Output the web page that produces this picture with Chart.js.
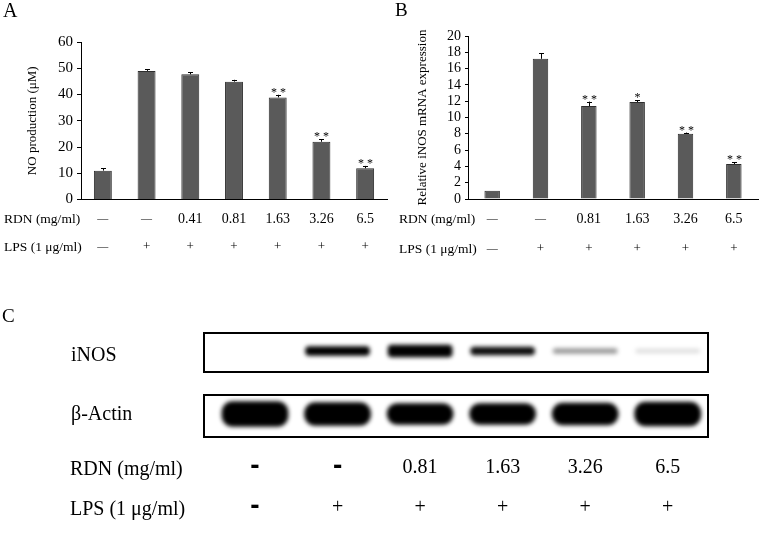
<!DOCTYPE html>
<html><head><meta charset="utf-8">
<script src="https://cdn.jsdelivr.net/npm/chart.js@4.4.1/dist/chart.umd.min.js"></script>
<style>
html,body{margin:0;padding:0;background:#fff;}
#wrap{position:relative;width:762px;height:549px;overflow:hidden;font-family:'Liberation Serif','Times New Roman',serif;color:#000;background:#fff;}
canvas{position:absolute;left:0;top:0;}
.lbl{position:absolute;white-space:nowrap;line-height:1;transform:translateY(-50%);}
</style></head><body>
<div id="wrap">
<canvas id="cA" width="762" height="549"></canvas>
<canvas id="cB" width="762" height="549"></canvas>
<canvas id="cC" width="762" height="549"></canvas>
<div class="lbl" style="left:3px;top:10px;font-size:20px">A</div>
<div class="lbl" style="left:395px;top:9px;font-size:19px">B</div>
<div class="lbl" style="left:2px;top:315px;font-size:19px">C</div>
<div class="lbl" style="left:4px;top:219px;font-size:13.5px">RDN (mg/ml)</div>
<div class="lbl" style="left:4px;top:247px;font-size:13.5px">LPS (1 μg/ml)</div>
<div class="lbl" style="left:399px;top:219px;font-size:13.5px">RDN (mg/ml)</div>
<div class="lbl" style="left:399px;top:249px;font-size:13.5px">LPS (1 μg/ml)</div>
<div class="lbl" style="left:71px;top:354px;font-size:20px">iNOS</div>
<div class="lbl" style="left:71px;top:413px;font-size:20px">β-Actin</div>
<div class="lbl" style="left:70px;top:468px;font-size:20px">RDN (mg/ml)</div>
<div class="lbl" style="left:70px;top:508px;font-size:20px">LPS (1 μg/ml)</div>
</div>
<script>
// ---------- Panel A data ----------
const groupsA = ['1','2','3','4','5','6','7'];
const rdnA = ['—','—','0.41','0.81','1.63','3.26','6.5'];
const lpsA = ['—','+','+','+','+','+','+'];
const noValues = [11.0, 49.0, 47.7, 44.9, 38.9, 22.0, 11.9];
const noErrors = [1.0, 0.7, 0.7, 0.7, 1.0, 0.9, 0.9];
const noSig = ['', '', '', '', '**', '**', '**'];

// ---------- Panel B data ----------
const groupsB = ['1','2','3','4','5','6'];
const rdnB = ['—','—','0.81','1.63','3.26','6.5'];
const lpsB = ['—','+','+','+','+','+'];
const inosValues = [1.0, 17.2, 11.4, 11.9, 8.0, 4.3];
const inosErrors = [0, 0.7, 0.55, 0.2, 0.15, 0.2];
const inosSig = ['', '', '**', '*', '**', '**'];

// ---------- Panel C data (western blot) ----------
const lanesC = [1, 2, 3, 4, 5, 6];
const rdnC = ['-', '-', '0.81', '1.63', '3.26', '6.5'];
const lpsC = ['-', '+', '+', '+', '+', '+'];
const inosBandIntensity = [0, 1.0, 1.0, 0.95, 0.4, 0.13];
const inosBandThickness = [0, 9, 12, 8, 5, 4];
const actinBandIntensity = [1, 1, 1, 1, 1, 1];
const actinBandThickness = [25, 23, 21, 21, 22, 24];

const SERIF = "'Liberation Serif','Times New Roman',serif";

function barAnnot(id, values, errors, sig, rdn, lps, rowY) {
  return {
    id,
    afterDatasetsDraw(chart) {
      const ctx = chart.ctx, ys = chart.scales.y, xs = chart.scales.x;
      const meta = chart.getDatasetMeta(0);
      ctx.save();
      ctx.strokeStyle = '#000'; ctx.lineWidth = 1; ctx.fillStyle = '#000';
      values.forEach((v, i) => {
        const x = Math.round(meta.data[i].x) + 0.5;
        const yv = ys.getPixelForValue(v), yt = ys.getPixelForValue(v + errors[i]);
        if (errors[i] > 0) {
          ctx.beginPath();
          ctx.moveTo(x, yv); ctx.lineTo(x, yt);
          ctx.moveTo(x - 2.5, Math.round(yt) + 0.5); ctx.lineTo(x + 2.5, Math.round(yt) + 0.5);
          ctx.stroke();
        }
        if (sig[i]) {
          ctx.font = '12px ' + SERIF;
          ctx.textAlign = 'center'; ctx.textBaseline = 'alphabetic';
          ctx.fillText(sig[i].split('').join(' '), x, yt + 1);
        }
      });
      ctx.textBaseline = 'middle';
      ctx.textAlign = 'center';
      [rdn, lps].forEach((row, r) => {
        row.forEach((t, i) => {
          const x = xs.getPixelForValue(i);
          ctx.font = (t === '—' ? '11px ' : (t === '+' ? '13px ' : '14px ')) + SERIF;
          ctx.fillText(t, x, rowY[r]);
        });
      });
      ctx.restore();
    }
  };
}

function yAxis(min, max, step, fontSize, tickLen, pad, title, width) {
  return {
    min, max,
    ticks: { stepSize: step, autoSkip: false, color: '#000', font: { family: SERIF, size: fontSize }, padding: pad },
    grid: { drawOnChartArea: false, drawTicks: true, tickLength: tickLen, color: '#000' },
    border: { display: true, color: '#000', width: 1 },
    title: { display: true, text: title, color: '#000', font: { family: SERIF, size: 13 } },
    afterFit: s => { s.width = width; }
  };
}
const xAxis = {
  ticks: { display: false },
  grid: { display: false },
  border: { display: true, color: '#000', width: 1 },
  afterFit: s => { s.height = 0; }
};

new Chart(document.getElementById('cA'), {
  type: 'bar',
  data: { labels: groupsA, datasets: [{ data: noValues, backgroundColor: '#5a5a5a', borderColor: '#2e2e2e', borderWidth: 1, barPercentage: 0.41, categoryPercentage: 1 }] },
  options: {
    responsive: false, animation: false, events: [],
    layout: { padding: { left: 21, top: 42, right: 375, bottom: 349.5 } },
    plugins: { legend: { display: false }, tooltip: { enabled: false } },
    scales: { x: xAxis, y: yAxis(0, 60, 10, 15, 4, 4, 'NO production (μM)', 60) }
  },
  plugins: [barAnnot('annA', noValues, noErrors, noSig, rdnA, lpsA, [219, 247])]
});

new Chart(document.getElementById('cB'), {
  type: 'bar',
  data: { labels: groupsB, datasets: [{ data: inosValues, backgroundColor: '#5a5a5a', borderColor: '#2e2e2e', borderWidth: 1, barPercentage: 0.32, categoryPercentage: 1 }] },
  options: {
    responsive: false, animation: false, events: [],
    layout: { padding: { left: 411, top: 36, right: 4, bottom: 350 } },
    plugins: { legend: { display: false }, tooltip: { enabled: false } },
    scales: { x: xAxis, y: yAxis(0, 20, 2, 14, 3, 4, 'Relative iNOS mRNA expression', 57) }
  },
  plugins: [barAnnot('annB', inosValues, inosErrors, inosSig, rdnB, lpsB, [219, 249])]
});

// Western blot panel
const INOS_ROW = 87, ACTIN_ROW = 24;
const blotPlugin = {
  id: 'blot',
  beforeDatasetsDraw(chart) { chart.ctx.save(); chart.ctx.filter = 'blur(2.2px)'; },
  afterDatasetsDraw(chart) { chart.ctx.restore(); },
  afterDraw(chart) {
    const ctx = chart.ctx, ys = chart.scales.y, xs = chart.scales.x, a = chart.chartArea;
    ctx.save();
    ctx.strokeStyle = '#000'; ctx.lineWidth = 2;
    const t1 = ys.getPixelForValue(106), b1 = ys.getPixelForValue(65);
    const t2 = ys.getPixelForValue(44), b2 = ys.getPixelForValue(0);
    ctx.strokeRect(a.left + 1, t1 + 1, a.right - a.left - 2, b1 - t1 - 2);
    ctx.strokeRect(a.left + 1, t2 + 1, a.right - a.left - 2, b2 - t2 - 2);
    ctx.fillStyle = '#000';
    ctx.textAlign = 'center'; ctx.textBaseline = 'middle';
    [[rdnC, 468], [lpsC, 508]].forEach(([row, y]) => {
      row.forEach((t, i) => {
        const x = xs.getPixelForValue(lanesC[i]);
        ctx.font = t === '-' ? "bold 28px 'Liberation Sans',Arial,sans-serif" : '20px ' + SERIF;
        ctx.fillText(t, x, t === '-' ? y - 2 : y);
      });
    });
    ctx.restore();
  }
};

new Chart(document.getElementById('cC'), {
  type: 'bar',
  data: {
    datasets: [
      {
        data: lanesC.map((l, i) => ({ x: l, y: [INOS_ROW - inosBandThickness[i] / 2, INOS_ROW + inosBandThickness[i] / 2] })),
        backgroundColor: inosBandIntensity.map(v => 'rgba(0,0,0,' + v + ')'),
        borderWidth: 0, borderRadius: 4, borderSkipped: false, grouped: false,
        barThickness: 64
      },
      {
        data: lanesC.map((l, i) => ({ x: l, y: [ACTIN_ROW - actinBandThickness[i] / 2, ACTIN_ROW + actinBandThickness[i] / 2] })),
        backgroundColor: actinBandIntensity.map(v => 'rgba(0,0,0,' + v + ')'),
        borderWidth: 0, borderRadius: 11, borderSkipped: false, grouped: false,
        barThickness: 66
      }
    ]
  },
  options: {
    responsive: false, animation: false, events: [],
    layout: { padding: { left: 203, top: 332, right: 53, bottom: 111 } },
    plugins: { legend: { display: false }, tooltip: { enabled: false } },
    scales: {
      x: { type: 'linear', min: 0.37, max: 6.5, offset: false, display: false },
      y: { type: 'linear', min: 0, max: 106, display: false }
    }
  },
  plugins: [blotPlugin]
});
</script>
</body></html>
